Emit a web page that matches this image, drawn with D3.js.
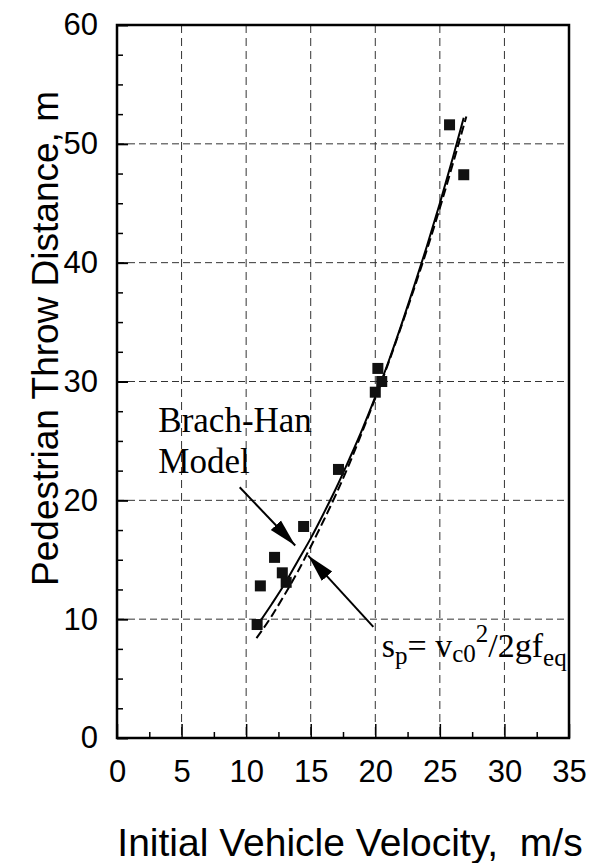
<!DOCTYPE html>
<html>
<head>
<meta charset="utf-8">
<script src="https://cdn.jsdelivr.net/npm/d3@7"></script>
<style>
  body { margin: 0; background: #fff; }
  svg { display: block; }
</style>
</head>
<body>
<svg class="chart" width="595" height="863"></svg>
<script>
// measured data (velocity m/s, throw distance m)
var pointV = [25.75, 26.85, 20.2, 20.5, 20.0, 17.15, 14.45, 12.2, 12.8, 13.1, 11.1, 10.85];
var pointS = [51.6, 47.4, 31.1, 30.0, 29.1, 22.6, 17.8, 15.2, 13.9, 13.1, 12.8, 9.55];

// Brach-Han model curve (solid)
var modelV = [10.75, 12, 13, 14, 15, 16, 17, 18, 19, 20, 21, 22, 23, 24, 25, 26, 26.85];
var modelS = [9.3, 11.3, 13.0, 14.9, 16.8, 18.9, 21.1, 23.5, 26.0, 28.7, 31.6, 34.7, 38.0, 41.4, 45.0, 48.8, 52.2];

// sp = v^2/2gf curve (dashed)
var simpleV = [10.8, 12, 13, 14, 15, 16, 17, 18, 19, 20, 21, 22, 23, 24, 25, 26, 27.05];
var simpleS = [8.4, 10.3, 12.1, 14.0, 16.1, 18.3, 20.6, 23.1, 25.8, 28.6, 31.5, 34.6, 37.8, 41.1, 44.6, 48.3, 52.3];

var xTicks = [0, 5, 10, 15, 20, 25, 30, 35];
var yTicks = [0, 10, 20, 30, 40, 50, 60];

var svg = d3.select(".chart"),
    width = +svg.attr("width"),
    height = +svg.attr("height");

var margin = {top: 25, right: 26, bottom: 125, left: 117};

var x = d3.scaleLinear()
    .domain([0, 35])
    .range([margin.left, width - margin.right]);

var y = d3.scaleLinear()
    .domain([0, 60])
    .range([height - margin.bottom, margin.top]);

var font = "'Liberation Sans', Arial, sans-serif";
var serif = "'Liberation Serif', 'Times New Roman', serif";

// grid
var grid = svg.append("g").attr("class", "grid");
grid.selectAll("line.v")
  .data(xTicks.slice(1, -1))
  .enter().append("line")
    .attr("x1", function(d) { return x(d); })
    .attr("x2", function(d) { return x(d); })
    .attr("y1", y(60))
    .attr("y2", y(0))
    .attr("stroke", "#333")
    .attr("stroke-width", 1)
    .attr("stroke-dasharray", "8,5");
grid.selectAll("line.h")
  .data(yTicks.slice(1, -1))
  .enter().append("line")
    .attr("x1", x(0))
    .attr("x2", x(35))
    .attr("y1", function(d) { return y(d); })
    .attr("y2", function(d) { return y(d); })
    .attr("stroke", "#333")
    .attr("stroke-width", 1)
    .attr("stroke-dasharray", "7,4");

// ticks (inside)
var xMinor = d3.range(2.5, 35, 5);
var yMinor = d3.range(0, 60.01, 2.5).filter(function(d) { return d % 10 != 0; });

svg.append("g")
    .attr("transform", "translate(0," + y(0) + ")")
    .call(d3.axisBottom(x).tickValues(xMinor).tickSize(-6).tickFormat(""))
  .call(function(g) { g.select(".domain").remove(); })
  .selectAll("line").attr("stroke-width", 1.5);

svg.append("g")
    .attr("transform", "translate(0," + y(0) + ")")
    .call(d3.axisBottom(x).tickValues(xTicks).tickSize(-14).tickPadding(22))
  .call(function(g) { g.select(".domain").remove(); })
  .call(function(g) {
    g.selectAll("line").attr("stroke-width", 1.5);
    g.selectAll("text")
      .attr("font-family", font)
      .attr("font-size", 31)
      .attr("fill", "#000");
  });

svg.append("g")
    .attr("transform", "translate(" + x(0) + ",0)")
    .call(d3.axisLeft(y).tickValues(yMinor).tickSize(-6).tickFormat(""))
  .call(function(g) { g.select(".domain").remove(); })
  .selectAll("line").attr("stroke-width", 1.5);

svg.append("g")
    .attr("transform", "translate(" + x(0) + ",0)")
    .call(d3.axisLeft(y).tickValues(yTicks).tickSize(-11).tickPadding(19))
  .call(function(g) { g.select(".domain").remove(); })
  .call(function(g) {
    g.selectAll("line").attr("stroke-width", 2);
    g.selectAll("text")
      .attr("font-family", font)
      .attr("font-size", 31)
      .attr("fill", "#000");
  });

// frame
svg.append("rect")
    .attr("x", x(0))
    .attr("y", y(60))
    .attr("width", x(35) - x(0))
    .attr("height", y(0) - y(60))
    .attr("fill", "none")
    .attr("stroke", "#000")
    .attr("stroke-width", 2.5);

// curves
var line = d3.line()
    .x(function(d) { return x(d[0]); })
    .y(function(d) { return y(d[1]); })
    .curve(d3.curveMonotoneX);

svg.append("path")
    .datum(d3.zip(simpleV, simpleS))
    .attr("d", line)
    .attr("fill", "none")
    .attr("stroke", "#000")
    .attr("stroke-width", 2)
    .attr("stroke-dasharray", "9,4");

svg.append("path")
    .datum(d3.zip(modelV, modelS))
    .attr("d", line)
    .attr("fill", "none")
    .attr("stroke", "#000")
    .attr("stroke-width", 2);

// measured points
var size = 11;
svg.append("g")
  .selectAll("rect")
  .data(d3.zip(pointV, pointS))
  .enter().append("rect")
    .attr("x", function(d) { return x(d[0]) - size / 2; })
    .attr("y", function(d) { return y(d[1]) - size / 2; })
    .attr("width", size)
    .attr("height", size)
    .attr("fill", "#111");

// annotations
svg.append("defs").append("marker")
    .attr("id", "head")
    .attr("viewBox", "0 0 28 16")
    .attr("refX", 28)
    .attr("refY", 8)
    .attr("markerWidth", 28)
    .attr("markerHeight", 16)
    .attr("markerUnits", "userSpaceOnUse")
    .attr("orient", "auto")
  .append("path")
    .attr("d", "M0,1 L28,8 L0,15 Z")
    .attr("fill", "#000");

var arrows = [
  [[9.5, 21.1], [13.8, 16.2]],
  [[19.85, 9.35], [14.8, 15.35]]
];
svg.selectAll("line.arrow")
  .data(arrows)
  .enter().append("line")
    .attr("class", "arrow")
    .attr("x1", function(d) { return x(d[0][0]); })
    .attr("y1", function(d) { return y(d[0][1]); })
    .attr("x2", function(d) { return x(d[1][0]); })
    .attr("y2", function(d) { return y(d[1][1]); })
    .attr("stroke", "#000")
    .attr("stroke-width", 2)
    .attr("marker-end", "url(#head)");

svg.append("text")
    .attr("x", x(3.2))
    .attr("y", y(25.75))
    .attr("font-family", serif)
    .attr("font-size", 35)
    .text("Brach-Han");
svg.append("text")
    .attr("x", x(3.2))
    .attr("y", y(22.3))
    .attr("font-family", serif)
    .attr("font-size", 35)
    .text("Model");

// formula  s_p = v_c0^2 / 2 g f_eq
var f = svg.append("text")
    .attr("x", x(20.5))
    .attr("y", y(6.8))
    .attr("font-family", serif)
    .attr("font-size", 34)
    .attr("fill", "#000");
f.append("tspan").text("s");
f.append("tspan").attr("dy", 7).attr("font-size", 25).text("p");
f.append("tspan").attr("dy", -7).text("= v");
f.append("tspan").attr("dy", 5).attr("font-size", 25).text("c0");
f.append("tspan").attr("dy", -20).attr("font-size", 25).text("2");
f.append("tspan").attr("dy", 15).text("/2gf");
f.append("tspan").attr("dy", 9).attr("font-size", 25).text("eq");

// axis titles
svg.append("text")
    .attr("x", 350)
    .attr("y", 856)
    .attr("text-anchor", "middle")
    .attr("font-family", font)
    .attr("font-size", 39)
    .attr("xml:space", "preserve")
    .text("Initial Vehicle Velocity,  m/s");

svg.append("text")
    .attr("transform", "translate(58," + ((y(0) + y(60)) / 2 - 43) + ") rotate(-90)")
    .attr("text-anchor", "middle")
    .attr("font-family", font)
    .attr("font-size", 37)
    .text("Pedestrian Throw Distance, m");
</script>
</body>
</html>
